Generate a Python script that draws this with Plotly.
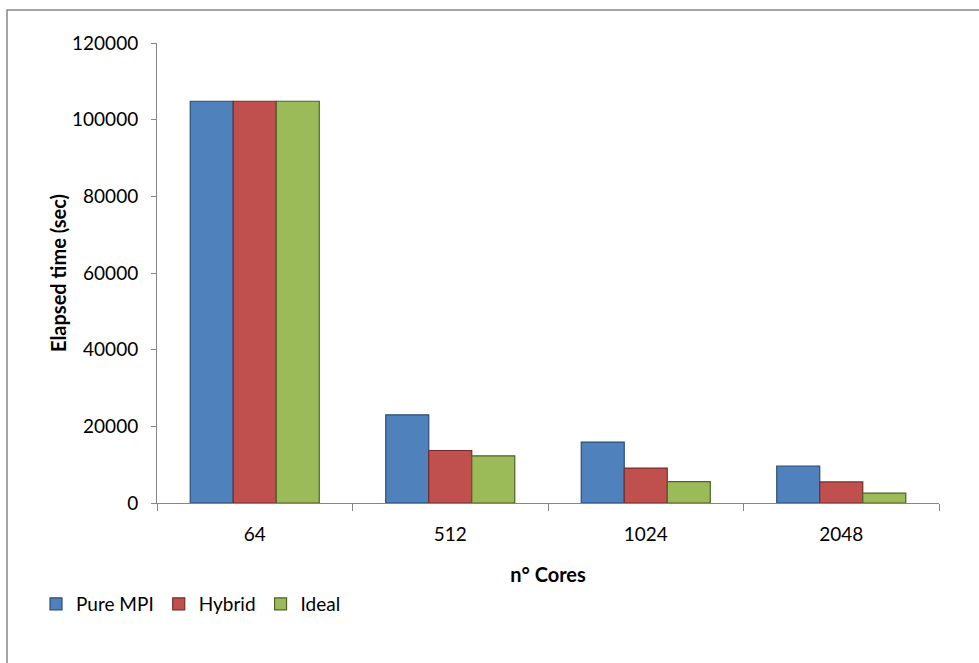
import plotly.graph_objects as go

cores = ["64", "512", "1024", "2048"]
pure_mpi = [104800, 23000, 15900, 9650]
hybrid = [104800, 13700, 9100, 5500]
ideal = [104800, 12300, 5600, 2600]
y_ticks = [0, 20000, 40000, 60000, 80000, 100000, 120000]

W, H = 979, 663
L, R, T, B = 157, 40, 43, 160
pw, ph = W - L - R, H - T - B

series = [
    ("Pure MPI", pure_mpi, "#4F81BD", "#2C4D75"),
    ("Hybrid", hybrid, "#C0504D", "#772C2A"),
    ("Ideal", ideal, "#9BBB59", "#4F6228"),
]

fig = go.Figure()
for name, vals, fill, edge in series:
    fig.add_trace(go.Bar(
        name=name, x=cores, y=vals,
        marker=dict(color=fill, line=dict(color=edge, width=1.2)),
    ))

font = "Lato, 'Open Sans', Arial, sans-serif"
fig.update_layout(
    width=W, height=H,
    margin=dict(l=L, r=R, t=T, b=B),
    paper_bgcolor="white", plot_bgcolor="white",
    barmode="group", bargap=0.34, bargroupgap=0.0,
    font=dict(family=font, size=19, color="#000000"),
    showlegend=True,
    legend=dict(
        orientation="h", x=(36 - L) / pw, xanchor="left",
        y=(T + ph - 604) / ph, yanchor="middle",
        font=dict(size=19), itemwidth=30,
        bgcolor="rgba(0,0,0,0)", traceorder="normal",
    ),
    xaxis=dict(
        type="category", tickson="boundaries", ticks="outside", ticklen=7,
        tickcolor="#868686", showline=True, linecolor="#868686", linewidth=1,
        showgrid=False, tickfont=dict(size=19), ticklabelstandoff=14,
        title=dict(text="<b>n° Cores</b>", font=dict(size=20), standoff=24),
    ),
    yaxis=dict(
        range=[0, 120000], tickvals=y_ticks, ticktext=[str(v) for v in y_ticks],
        ticks="outside", ticklen=5, tickcolor="#868686",
        showline=True, linecolor="#868686", linewidth=1,
        showgrid=False, zeroline=False, tickfont=dict(size=19),
        ticklabelstandoff=9,
        title=dict(text="<b>Elapsed time (sec)</b>", font=dict(size=20), standoff=0),
    ),
)

# outer chart frame
fig.add_shape(
    type="rect", xref="paper", yref="paper",
    x0=(7 - L) / pw, x1=(W + 5 - L) / pw,
    y0=(T + ph - (H + 5)) / ph, y1=(T + ph - 10) / ph,
    line=dict(color="#868686", width=1.5), fillcolor="rgba(0,0,0,0)", layer="below",
)

fig.write_html("out.html")
